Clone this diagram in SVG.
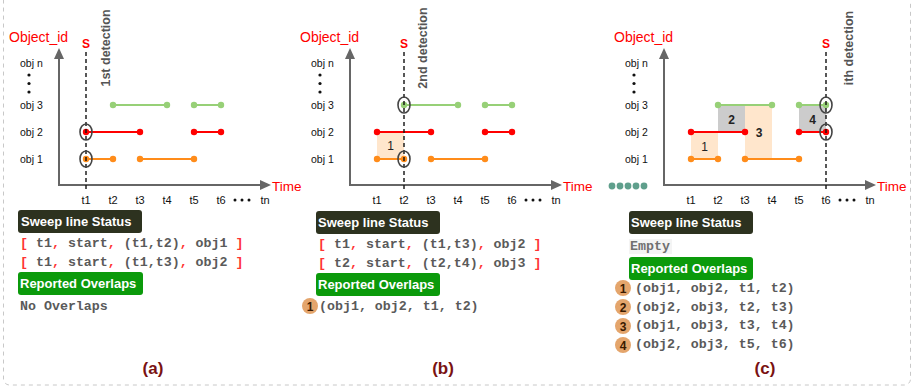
<svg xmlns="http://www.w3.org/2000/svg" width="917" height="389" viewBox="0 0 917 389">
<style>
.axis{stroke:#666;stroke-width:2;fill:none}
.ah{fill:#666}
.sweep{stroke:#111;stroke-width:1.4;stroke-dasharray:4 3;fill:none}
.g{stroke:#97d077;stroke-width:2}
.r{stroke:#ff0000;stroke-width:2}
.o{stroke:#ff8c1a;stroke-width:2}
.gd{fill:#97d077}
.rd{fill:#ff0000}
.od{fill:#ff8c1a}
.ring{fill:none;stroke:#444;stroke-width:1.6}
.lbl{font-family:"Liberation Sans",Arial,sans-serif}
.axt{font-size:14px;fill:#ff0000}
.obj{font-size:10.5px;fill:#111}
.tl{font-size:11px;fill:#111;text-anchor:middle}
.s{font-size:12px;fill:#ff0000;font-weight:bold;text-anchor:middle}
.det{font-size:12.5px;fill:#555;font-weight:bold;text-anchor:middle}
.peach{fill:#ffe6cc}
.gray{fill:#cccccc}
.num{font-size:12px;font-weight:bold;fill:#222;text-anchor:middle}
.dbox{fill:#2d321f}
.gbox{fill:#0b9a0b}
.bt{font-family:"Liberation Sans",Arial,sans-serif;font-size:13px;font-weight:bold;fill:#fff}
.code{font-family:"Liberation Mono","Courier New",monospace;font-size:13.3px;font-weight:bold;fill:#5a5a5a}
.red{fill:#ff3333}
.badge{fill:#e4a56c}
.bn{font-family:"Liberation Sans",Arial,sans-serif;font-size:12px;font-weight:bold;fill:#3a1a00;text-anchor:middle}
.cap{font-family:"Liberation Sans",Arial,sans-serif;font-size:17px;font-weight:bold;fill:#7a1212;text-anchor:middle}
.dot{fill:#111}
.teal{fill:#5f9f8c}
</style>
<defs>
<g id="chart">
<g class="lbl">
<text class="axt" x="9" y="42">Object_id</text>
<text class="axt" x="272" y="191" style="font-size:13.5px">Time</text>
<text class="obj" x="20" y="67">obj n</text>
<text class="obj" x="20" y="109">obj 3</text>
<text class="obj" x="20" y="136">obj 2</text>
<text class="obj" x="20" y="163">obj 1</text>
<text class="tl" x="86" y="204">t1</text>
<text class="tl" x="113" y="204">t2</text>
<text class="tl" x="140" y="204">t3</text>
<text class="tl" x="167" y="204">t4</text>
<text class="tl" x="194" y="204">t5</text>
<text class="tl" x="221" y="204">t6</text>
<text class="tl" x="265" y="204">tn</text>
</g>
<circle class="dot" cx="29" cy="75" r="1.6"/>
<circle class="dot" cx="29" cy="83.5" r="1.6"/>
<circle class="dot" cx="29" cy="92" r="1.6"/>
<circle class="dot" cx="235" cy="200" r="1.5"/>
<circle class="dot" cx="242" cy="200" r="1.5"/>
<circle class="dot" cx="249" cy="200" r="1.5"/>
</g>
<g id="segs">
<line class="g" x1="113" y1="105" x2="167" y2="105"/>
<line class="g" x1="194" y1="105" x2="221" y2="105"/>
<line class="r" x1="86" y1="132" x2="140" y2="132"/>
<line class="r" x1="194" y1="132" x2="221" y2="132"/>
<line class="o" x1="86" y1="159" x2="113" y2="159"/>
<line class="o" x1="140" y1="159" x2="194" y2="159"/>
<circle class="gd" cx="113" cy="105" r="3.2"/><circle class="gd" cx="167" cy="105" r="3.2"/>
<circle class="gd" cx="194" cy="105" r="3.2"/><circle class="gd" cx="221" cy="105" r="3.2"/>
<circle class="rd" cx="86" cy="132" r="3.2"/><circle class="rd" cx="140" cy="132" r="3.2"/>
<circle class="rd" cx="194" cy="132" r="3.2"/><circle class="rd" cx="221" cy="132" r="3.2"/>
<circle class="od" cx="86" cy="159" r="3.2"/><circle class="od" cx="113" cy="159" r="3.2"/>
<circle class="od" cx="140" cy="159" r="3.2"/><circle class="od" cx="194" cy="159" r="3.2"/>
</g>
<g id="axes">
<path class="axis" d="M59,57 V185 H262"/>
<polygon class="ah" points="59,48 54,59 64,59"/>
<polygon class="ah" points="271,185 260,180 260,190"/>
</g>
</defs>

<rect x="3.5" y="-10" width="907" height="395" rx="6" fill="none" stroke="#c8c8c8" stroke-width="1" stroke-dasharray="4 4"/>

<g id="connectors">
<use href="#axes"/>
<use href="#axes" transform="translate(291,0)"/>
<use href="#axes" transform="translate(605,0)"/>
</g>

<!-- Panel (a) -->
<g id="panel-a">
<use href="#chart"/>
<use href="#segs"/>
<g id="a-sweep">
<line class="sweep" x1="86" y1="52" x2="86" y2="191"/>
<text class="lbl s" x="86" y="48">S</text>
<text class="lbl det" transform="translate(110,48) rotate(-90)">1st detection</text>
<ellipse class="ring" cx="86" cy="132" rx="6" ry="8"/>
<ellipse class="ring" cx="86" cy="159" rx="6" ry="8"/>
</g>
<g id="a-status">
<rect class="dbox" x="18" y="210" width="124" height="23" rx="3"/>
<text class="bt" x="21" y="226">Sweep line Status</text>
<text class="code" x="20" y="247"><tspan class="red">[</tspan> t1<tspan class="red">,</tspan> start<tspan class="red">,</tspan> (t1,t2)<tspan class="red">,</tspan> obj1 <tspan class="red">]</tspan></text>
<text class="code" x="20" y="266"><tspan class="red">[</tspan> t1<tspan class="red">,</tspan> start<tspan class="red">,</tspan> (t1,t3)<tspan class="red">,</tspan> obj2 <tspan class="red">]</tspan></text>
</g>
<g id="a-reported">
<rect class="gbox" x="18" y="272" width="125" height="23" rx="3"/>
<text class="bt" x="20" y="288">Reported Overlaps</text>
<text class="code" x="20" y="310">No Overlaps</text>
</g>
<text class="cap" x="153" y="374">(a)</text>
</g>

<!-- Panel (b) -->
<g id="panel-b">
<g transform="translate(291,0)">
<use href="#chart"/>
<g id="b-overlaps">
<rect class="peach" x="86" y="132" width="27" height="27"/>
<text class="lbl num" x="99.5" y="150" style="font-weight:normal">1</text>
</g>
<use href="#segs"/>
<g id="b-sweep">
<line class="sweep" x1="113" y1="52" x2="113" y2="191"/>
<text class="lbl s" x="113" y="48">S</text>
<text class="lbl det" transform="translate(136,48) rotate(-90)">2nd detection</text>
<ellipse class="ring" cx="113" cy="105" rx="6" ry="8"/>
<ellipse class="ring" cx="113" cy="159" rx="6" ry="8"/>
</g>
</g>
<g id="b-status">
<rect class="dbox" x="316" y="211" width="124" height="23" rx="3"/>
<text class="bt" x="318" y="227">Sweep line Status</text>
<text class="code" x="318" y="248"><tspan class="red">[</tspan> t1<tspan class="red">,</tspan> start<tspan class="red">,</tspan> (t1,t3)<tspan class="red">,</tspan> obj2 <tspan class="red">]</tspan></text>
<text class="code" x="318" y="267"><tspan class="red">[</tspan> t2<tspan class="red">,</tspan> start<tspan class="red">,</tspan> (t2,t4)<tspan class="red">,</tspan> obj3 <tspan class="red">]</tspan></text>
</g>
<g id="b-reported">
<rect class="gbox" x="316" y="273" width="124" height="23" rx="3"/>
<text class="bt" x="318" y="289">Reported Overlaps</text>
<circle class="badge" cx="310" cy="306" r="8"/>
<text class="bn" x="310" y="310.5">1</text>
<text class="code" x="319" y="310">(obj1, obj2, t1, t2)</text>
</g>
<text class="cap" x="443" y="374">(b)</text>
</g>

<!-- Panel (c) -->
<g id="panel-c">
<g transform="translate(605,0)">
<use href="#chart"/>
<g id="c-overlaps">
<rect class="peach" x="86" y="132" width="27" height="27"/>
<rect class="gray" x="113" y="105" width="27" height="27"/>
<rect class="peach" x="140" y="105" width="27" height="54"/>
<rect class="gray" x="194" y="105" width="27" height="27"/>
<text class="lbl num" x="99.5" y="151" style="font-weight:normal">1</text>
<text class="lbl num" x="126.5" y="124">2</text>
<text class="lbl num" x="154" y="137">3</text>
<text class="lbl num" x="207.5" y="124">4</text>
</g>
<use href="#segs"/>
<g id="c-sweep">
<line class="sweep" x1="221" y1="52" x2="221" y2="191"/>
<text class="lbl s" x="221" y="48">S</text>
<text class="lbl det" transform="translate(248,48) rotate(-90)">ith detection</text>
<ellipse class="ring" cx="221" cy="105" rx="6" ry="8"/>
<ellipse class="ring" cx="221" cy="132" rx="6" ry="8"/>
</g>
</g>
<g id="c-ellipsis">
<circle class="teal" cx="612" cy="186" r="3.4"/>
<circle class="teal" cx="620" cy="186" r="3.4"/>
<circle class="teal" cx="628" cy="186" r="3.4"/>
<circle class="teal" cx="636" cy="186" r="3.4"/>
<circle class="teal" cx="644" cy="186" r="3.4"/>
</g>
<g id="c-status">
<rect class="dbox" x="629" y="211" width="124" height="23" rx="3"/>
<text class="bt" x="631" y="227">Sweep line Status</text>
<rect x="629" y="239" width="43" height="15" fill="#f4f4f4"/>
<text class="code" x="630" y="250" style="fill:#707070">Empty</text>
</g>
<g id="c-reported">
<rect class="gbox" x="629" y="257" width="124" height="23" rx="3"/>
<text class="bt" x="631" y="273">Reported Overlaps</text>
<circle class="badge" cx="623" cy="288" r="8"/>
<text class="bn" x="623" y="292.5">1</text>
<text class="code" x="635" y="292">(obj1, obj2, t1, t2)</text>
<circle class="badge" cx="623" cy="307" r="8"/>
<text class="bn" x="623" y="311.5">2</text>
<text class="code" x="635" y="311">(obj2, obj3, t2, t3)</text>
<circle class="badge" cx="623" cy="326" r="8"/>
<text class="bn" x="623" y="330.5">3</text>
<text class="code" x="635" y="329">(obj1, obj3, t3, t4)</text>
<circle class="badge" cx="623" cy="345" r="8"/>
<text class="bn" x="623" y="349.5">4</text>
<text class="code" x="635" y="348">(obj2, obj3, t5, t6)</text>
</g>
<text class="cap" x="765" y="374">(c)</text>
</g>
</svg>
